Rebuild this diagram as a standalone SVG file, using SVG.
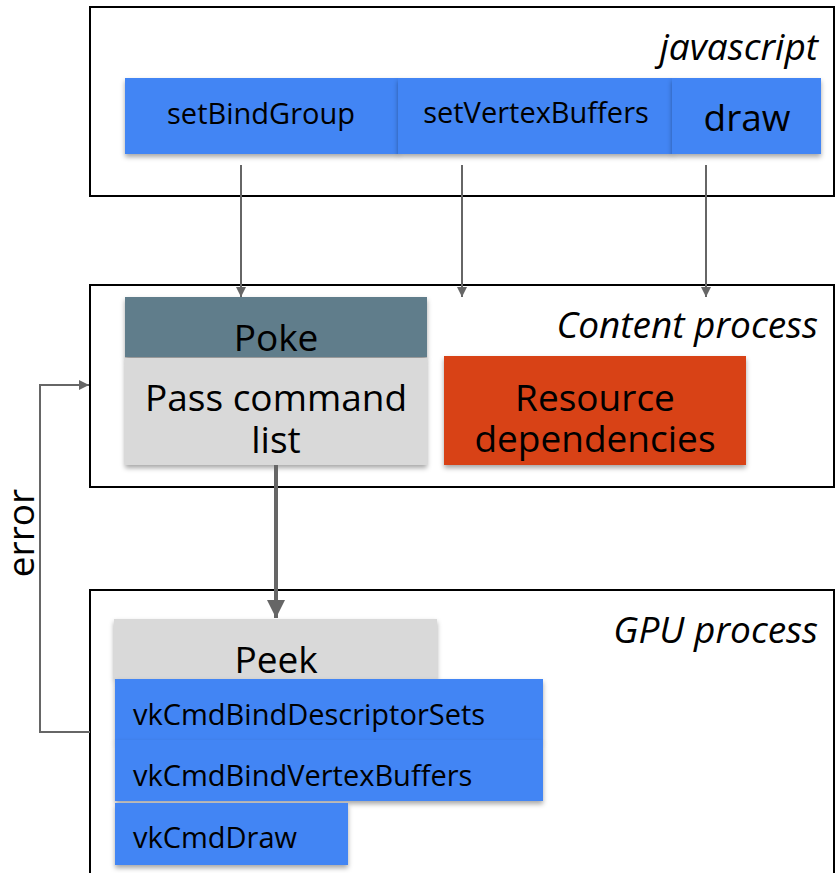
<svg xmlns="http://www.w3.org/2000/svg" width="837" height="873" viewBox="0 0 837 873">
  <style>
    .frame { fill: #ffffff; stroke: #000000; stroke-width: 2; }
    .title { font-family: "Open Sans", "Noto Sans", sans-serif; font-style: italic; font-size: 37px; fill: #000000; text-anchor: end; }
    .lbl { font-family: "Open Sans", "Noto Sans", sans-serif; fill: #000000; text-anchor: middle; }
    .lft { font-family: "Open Sans", "Noto Sans", sans-serif; fill: #000000; font-size: 29px; }
    .blue { fill: #4285f4; }
    .grey { fill: #d9d9d9; }
    .slate { fill: #607d8b; }
    .rust { fill: #d84315; }
    .wire { fill: none; stroke: #666666; stroke-width: 2; }
    .thick { fill: none; stroke: #666666; stroke-width: 4; }
  </style>
  <defs>
    <filter id="shadow" x="-10%" y="-10%" width="120%" height="130%">
      <feDropShadow dx="0" dy="3" stdDeviation="2.5" flood-color="#000000" flood-opacity="0.35"/>
    </filter>
    <marker id="arrowS" viewBox="0 0 10 10" refX="10" refY="5" markerWidth="12" markerHeight="10" orient="auto" markerUnits="userSpaceOnUse">
      <path d="M0,0 L10,5 L0,10 z" fill="#666666"/>
    </marker>
    <marker id="arrowL" viewBox="0 0 10 10" refX="10" refY="5" markerWidth="26" markerHeight="18" orient="auto" markerUnits="userSpaceOnUse">
      <path d="M0,0 L10,5 L0,10 z" fill="#666666"/>
    </marker>
  </defs>

  <!-- process frames -->
  <g id="javascript">
    <rect class="frame" x="90" y="7" width="744" height="189"/>
    <text class="title" x="818" y="60">javascript</text>
  </g>
  <g id="content-process">
    <rect class="frame" x="90" y="285" width="744" height="202"/>
    <text class="title" x="818" y="338">Content process</text>
  </g>
  <g id="gpu-process">
    <rect class="frame" x="90" y="590" width="744" height="300"/>
    <text class="title" x="818" y="643">GPU process</text>
  </g>

  <!-- javascript calls -->
  <g id="setBindGroup">
    <rect class="blue" x="125" y="78" width="274" height="76" filter="url(#shadow)"/>
    <text class="lbl" x="261" y="124" font-size="29">setBindGroup</text>
  </g>
  <g id="setVertexBuffers">
    <rect class="blue" x="398" y="78" width="275" height="76" filter="url(#shadow)"/>
    <text class="lbl" x="536" y="123" font-size="29">setVertexBuffers</text>
  </g>
  <g id="draw">
    <rect class="blue" x="672" y="78" width="149" height="76" filter="url(#shadow)"/>
    <text class="lbl" x="747" y="131" font-size="37">draw</text>
  </g>

  <!-- content process -->
  <g id="poke">
    <rect class="grey" x="125" y="357" width="302" height="108" filter="url(#shadow)"/>
    <rect class="slate" x="125" y="297" width="302" height="60" filter="url(#shadow)"/>
    <text class="lbl" x="276" y="351" font-size="37">Poke</text>
  </g>
  <g id="pass-command-list">
    <rect class="grey" x="125" y="358" width="302" height="107"/>
    <text class="lbl" x="276" y="411" font-size="37">Pass command</text>
    <text class="lbl" x="276" y="453" font-size="37">list</text>
  </g>
  <g id="resource-dependencies">
    <rect class="rust" x="444" y="356" width="302" height="109" filter="url(#shadow)"/>
    <text class="lbl" x="595" y="411" font-size="37">Resource</text>
    <text class="lbl" x="595" y="452" font-size="37">dependencies</text>
  </g>

  <!-- gpu process -->
  <g id="peek">
    <rect class="grey" x="114" y="619" width="323" height="60" filter="url(#shadow)"/>
    <text class="lbl" x="276" y="673" font-size="37">Peek</text>
  </g>
  <g id="vkCmdBindDescriptorSets">
    <rect class="blue" x="115" y="679" width="428" height="62" filter="url(#shadow)"/>
    <text class="lft" x="133" y="725">vkCmdBindDescriptorSets</text>
  </g>
  <g id="vkCmdBindVertexBuffers">
    <rect class="blue" x="115" y="740" width="428" height="61" filter="url(#shadow)"/>
    <text class="lft" x="133" y="786">vkCmdBindVertexBuffers</text>
  </g>
  <g id="vkCmdDraw">
    <rect class="blue" x="115" y="803" width="233" height="62" filter="url(#shadow)"/>
    <text class="lft" x="133" y="848">vkCmdDraw</text>
  </g>

  <!-- connectors -->
  <g id="connectors">
    <line class="wire" x1="241" y1="165" x2="241" y2="297" marker-end="url(#arrowS)"/>
    <line class="wire" x1="462" y1="165" x2="462" y2="297" marker-end="url(#arrowS)"/>
    <line class="wire" x1="706" y1="165" x2="706" y2="297" marker-end="url(#arrowS)"/>
    <line class="thick" x1="276" y1="465" x2="276" y2="618" marker-end="url(#arrowL)"/>
    <polyline class="wire" points="90,732 40,732 40,385 89,385" marker-end="url(#arrowS)"/>
    <text class="lbl" font-size="37" transform="translate(34,533) rotate(-90)">error</text>
  </g>
</svg>
